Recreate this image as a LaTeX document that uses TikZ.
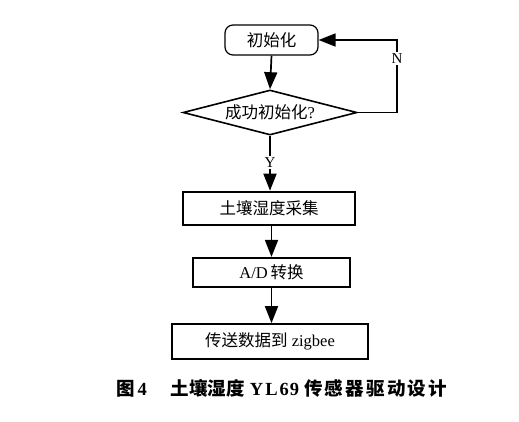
\documentclass[tikz,border=0pt]{standalone}
\usepackage{fontspec}
\setmainfont{Liberation Serif}
\newfontfamily\cjk{Noto Sans CJK SC}
\usetikzlibrary{shapes.geometric,arrows.meta}
\begin{document}
\begin{tikzpicture}[x=1pt,y=-1pt,
  flowbox/.style={draw,rectangle,inner sep=0pt,font=\fontsize{16.5}{19}\selectfont},
  flowline/.style={line width=1.7pt,-{Triangle[width=13pt,length=17pt]}},
  plainline/.style={line width=1.7pt},
  lab/.style={fill=white,inner sep=1.5pt,font=\fontsize{15}{17}\selectfont}]
\useasboundingbox (0,0) rectangle (519,421);
\node[flowbox,line width=1.2pt,rounded corners=8pt,minimum width=93pt,minimum height=30pt] (init) at (271.5,40) {\cjk 初始化};
\node[draw,diamond,line width=1.6pt,inner sep=0pt,minimum width=174pt,minimum height=45pt,shape aspect=3.87,font=\fontsize{16.5}{19}\selectfont] (ok) at (270,112.5) {{\cjk 成功初始化}?};
\node[flowbox,line width=2.6pt,minimum width=172pt,minimum height=33pt] (collect) at (269,208.5) {\cjk 土壤湿度采集};
\node[flowbox,line width=2.2pt,minimum width=157pt,minimum height=29pt] (ad) at (271.5,272.5) {A/D\,{\cjk 转换}};
\node[flowbox,line width=1.6pt,minimum width=196pt,minimum height=35pt] (send) at (270,341.5) {{\cjk 传送数据到} zigbee};
\coordinate (corner) at (397,112.5);
\draw[flowline] (init.south) -- (ok.north);
\draw[flowline] (ok.south) -- node[lab,pos=0.48] {Y} (ok.south |- collect.north);
\draw[flowline] (collect.south -| ad.north) -- (ad.north);
\draw[flowline] (ad.south) -- (ad.south |- send.north);
\draw[plainline] (ok.east) -- (corner);
\draw[flowline] (corner) -- node[lab,pos=0.75] {N} (corner |- init.east) -- (init.east);
\node[font=\bfseries\fontsize{18.5}{21}\selectfont,anchor=west,inner sep=0pt] (cap) at (116,388) {{\cjk\bfseries 图}\kern3pt 4\hspace{24pt}{\cjk\bfseries 土壤湿度}\hspace{5pt}Y\kern2pt L\kern2pt 6\kern1pt 9\hspace{5pt}{\cjk\bfseries\addfontfeature{LetterSpace=12} 传感器驱动设计}};
\end{tikzpicture}
\end{document}
